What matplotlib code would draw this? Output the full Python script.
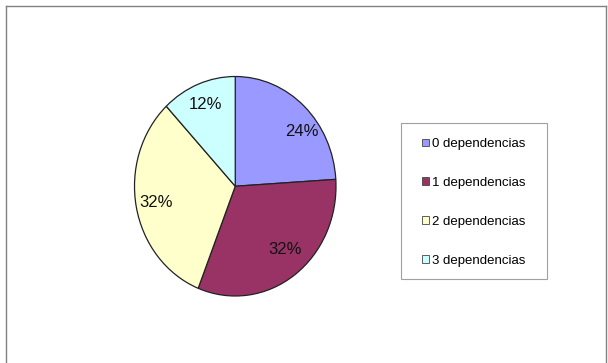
import matplotlib
matplotlib.use('Agg')
import matplotlib.pyplot as plt
from matplotlib.patches import Patch, Rectangle
from matplotlib.lines import Line2D
import numpy as np

plt.rcParams['font.family'] = ['Liberation Sans', 'DejaVu Sans']

labels = ['0 dependencias', '1 dependencias', '2 dependencias', '3 dependencias']
values = [24, 32, 32, 12]
colors = ['#9999FF', '#993366', '#FFFFCC', '#CCFFFF']

W, H = 608, 363
fig = plt.figure(figsize=(W / 100, H / 100), dpi=100)
fig.patch.set_facecolor('white')

# pie axes (slightly taller than wide)
ax = fig.add_axes([134.5 / W, 1 - 296 / H, 201.5 / W, 219.5 / H])
wedges, texts, autotexts = ax.pie(values, colors=colors, startangle=90, counterclock=False,
                                  autopct='%1.0f%%', pctdistance=0.8,
                                  wedgeprops=dict(edgecolor='#222222', linewidth=0.9),
                                  textprops=dict(fontsize=12, color='#111111'))
ax.set_aspect('auto')
ax.set_xlim(-1, 1)
ax.set_ylim(-1, 1)
ax.axis('off')

# nudge a couple of labels off the wedge bisector
for t, deg, r in [(autotexts[0], 37, 0.83), (autotexts[1], -49, 0.76)]:
    a = np.deg2rad(deg)
    t.set_position((r * np.cos(a), r * np.sin(a)))

# legend with its own frame
handles = [Patch(facecolor=c, edgecolor='#444444', linewidth=0.6) for c in colors]
fig.legend(handles, labels, loc='center', bbox_to_anchor=(474 / W, 1 - 202.5 / H),
           frameon=False, fontsize=9.5, borderpad=0, handlelength=0.53, handleheight=0.53,
           handletextpad=0.2, labelspacing=2.04)
fig.add_artist(Rectangle((400.5 / W, 1 - 278.5 / H), 146 / W, 155.5 / H,
                         transform=fig.transFigure, facecolor='none',
                         edgecolor='#a0a0a0', linewidth=0.8))

# outer chart border (top, left, right)
for xs, ys in [((5.5, 605.5), (5.5, 5.5)), ((5.5, 5.5), (5.5, H)), ((605.5, 605.5), (5.5, H))]:
    fig.add_artist(Line2D([x / W for x in xs], [1 - y / H for y in ys],
                          transform=fig.transFigure, color='#808080', linewidth=1.0))

fig.savefig('out.png', dpi=100)
